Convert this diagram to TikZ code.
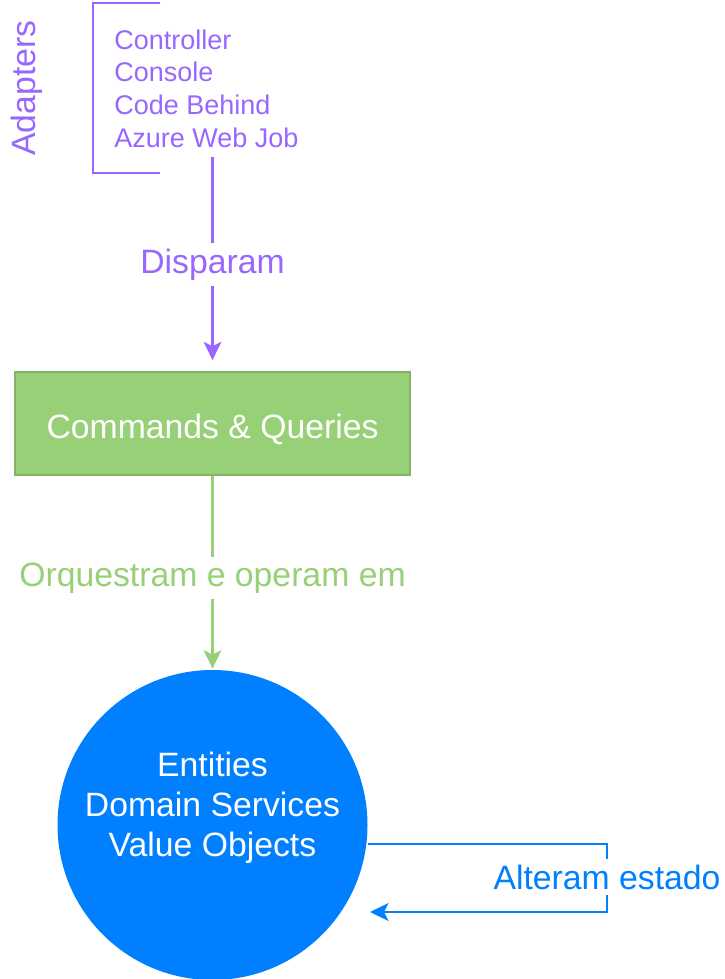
\documentclass[tikz,border=0pt]{standalone}
\usepackage{fontspec}
\setmainfont{Liberation Sans}
\usetikzlibrary{arrows.meta}
\definecolor{adaptcol}{RGB}{153,102,255}
\definecolor{cmdfill}{RGB}{151,208,119}
\definecolor{cmdline}{RGB}{130,179,102}
\definecolor{domcol}{RGB}{0,127,255}
\tikzset{
  big/.style={font=\fontsize{24}{28.5}\selectfont},
  lbl/.style={big,fill=white,inner xsep=2pt,inner ysep=4pt},
}

\begin{document}
\begin{tikzpicture}[x=0.025cm,y=-0.025cm,line width=2pt,
  >={Stealth[length=13pt,width=12.5pt,inset=3pt]}]
\useasboundingbox (0,0) rectangle (724,979);
% adapters
\node[big,text=adaptcol,rotate=90] (adapters) at (27,88) {Adapters};
\draw[adaptcol] (160,3) -- (93,3) -- (93,173) -- (160,173);
\node[text=adaptcol,anchor=west,align=left,inner sep=0pt,
  font=\fontsize{19.2}{23.3}\selectfont] (list) at (113,88.5)
  {Controller\\Console\\Code Behind\\Azure Web Job};
% commands
\node[fill=cmdfill,draw=cmdline,line width=0.8pt,
  minimum width=395*0.025cm,minimum height=103*0.025cm] (cmd) at (212.5,423.5) {};
\node[big,text=white] (cmdtxt) at ([yshift=-4pt]cmd.center) {Commands \& Queries};
% domain
\node[fill=domcol,circle,minimum size=310*0.025cm] (dom) at (212.5,825) {};
\node[big,text=white,align=center] (domtxt) at ([yshift=12pt]dom.center)
  {Entities\\Domain Services\\Value Objects};
\draw[adaptcol,->,shorten <=6pt,shorten >=8pt] (cmd.north |- list.south) -- node[lbl,text=adaptcol,pos=0.52] (disp) {Disparam} (cmd.north);
\draw[cmdfill,->] (cmd.south) -- node[lbl,text=cmdfill,pos=0.53] (orq) {Orquestram e operam em} (dom.north);
\coordinate (loopin) at (370,912);
\draw[domcol,->] (dom.-7) -| (607,877) node[lbl,text=domcol,inner xsep=1pt] (alt) {Alteram estado} |- (loopin);
\end{tikzpicture}
\end{document}
